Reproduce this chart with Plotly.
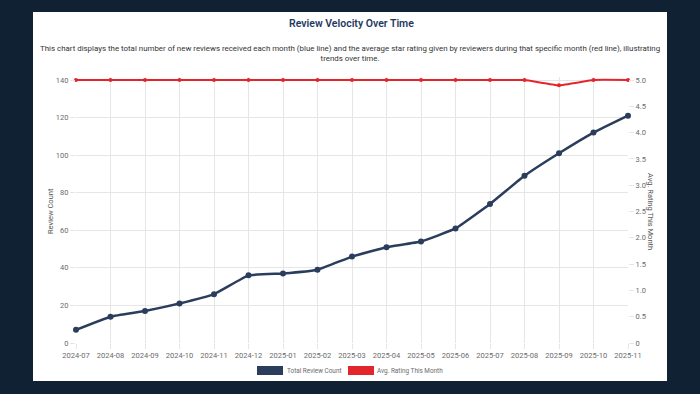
import plotly.graph_objects as go

months = ["2024-07", "2024-08", "2024-09", "2024-10", "2024-11", "2024-12",
          "2025-01", "2025-02", "2025-03", "2025-04", "2025-05", "2025-06",
          "2025-07", "2025-08", "2025-09", "2025-10", "2025-11"]
review_counts = [7, 14, 17, 21, 26, 36, 37, 39, 46, 51, 54, 61, 74, 89, 101, 112, 121]
avg_ratings = [5.0, 5.0, 5.0, 5.0, 5.0, 5.0, 5.0, 5.0, 5.0, 5.0, 5.0, 5.0, 5.0, 5.0, 4.9, 5.0, 5.0]
left_ticks = [0, 20, 40, 60, 80, 100, 120, 140]
right_tickvals = [0, 0.5, 1.0, 1.5, 2.0, 2.5, 3.0, 3.5, 4.0, 4.5, 5.0]
right_ticktext = ["0", "0.5", "1.0", "1.5", "2.0", "2.5", "3.0", "3.5", "4.0", "4.5", "5.0"]

title = "Review Velocity Over Time"
subtitle = ("This chart displays the total number of new reviews received each month (blue line) and the average "
            "star rating given by reviewers during that specific month (red line), illustrating<br>trends over time.")
series_names = ["Total Review Count", "Avg. Rating This Month"]

NAVY = "#2b3d5c"
RED = "#e3262b"
BG = "#0f2133"
FONT = "Roboto"
TICK_COLOR = "#6b6b6b"

W, H = 700, 394
L, R = 76, 628          # plot area pixel x
TOP, BOT = 77, 343      # plot area pixel y (140 grid at y=80)
ymax_left = 140 * (BOT - TOP) / (BOT - 80)
ymax_right = 5 * (BOT - TOP) / (BOT - 80)


def px(x):
    return (x - L) / (R - L)


def py(y):
    return (BOT - y) / (BOT - TOP)


fig = go.Figure()
fig.add_trace(go.Scatter(
    x=months, y=review_counts, name=series_names[0], mode="lines+markers",
    line=dict(color=NAVY, width=2.5, shape="spline", smoothing=0.3),
    marker=dict(color=NAVY, size=6), yaxis="y", cliponaxis=False, showlegend=False))
fig.add_trace(go.Scatter(
    x=months, y=avg_ratings, name=series_names[1], mode="lines+markers",
    line=dict(color=RED, width=2, shape="spline", smoothing=0.3),
    marker=dict(color=RED, size=4), yaxis="y2", cliponaxis=False, showlegend=False))

shapes = [
    dict(type="rect", xref="paper", yref="paper", x0=px(33), x1=px(667), y0=py(381), y1=py(12),
         fillcolor="white", line=dict(width=0), layer="below"),
    dict(type="rect", xref="paper", yref="paper", x0=px(257), x1=px(283), y0=py(375), y1=py(366),
         fillcolor=NAVY, line=dict(width=0)),
    dict(type="rect", xref="paper", yref="paper", x0=px(348), x1=px(374), y0=py(375), y1=py(366),
         fillcolor=RED, line=dict(width=0)),
]

annotations = [
    dict(text=title, x=px(351), y=py(23), xref="paper", yref="paper", showarrow=False,
         xanchor="center", yanchor="middle",
         font=dict(family=FONT, size=10.5, color="#1e3a5f", weight=600)),
    dict(text=subtitle, x=px(350), y=py(53), xref="paper", yref="paper", showarrow=False,
         xanchor="center", yanchor="middle", align="center",
         font=dict(family=FONT, size=7.9, color="#333333")),
    dict(text="Review Count", x=px(50), y=py(211), xref="paper", yref="paper", showarrow=False,
         textangle=-90, xanchor="center", yanchor="middle",
         font=dict(family=FONT, size=7.5, color="#555555")),
    dict(text="Avg. Rating This Month", x=px(651), y=py(211), xref="paper", yref="paper", showarrow=False,
         textangle=90, xanchor="center", yanchor="middle",
         font=dict(family=FONT, size=7.5, color="#555555")),
    dict(text=series_names[0], x=px(286), y=py(370.5), xref="paper", yref="paper", showarrow=False,
         xanchor="left", yanchor="middle", borderpad=0,
         font=dict(family=FONT, size=6.4, color=TICK_COLOR)),
    dict(text=series_names[1], x=px(376), y=py(370.5), xref="paper", yref="paper", showarrow=False,
         xanchor="left", yanchor="middle", borderpad=0,
         font=dict(family=FONT, size=6.4, color=TICK_COLOR)),
]

fig.update_layout(
    width=W, height=H,
    margin=dict(l=L, r=W - R, t=TOP, b=H - BOT, pad=0),
    paper_bgcolor=BG, plot_bgcolor="rgba(0,0,0,0)",
    font=dict(family=FONT, size=7.5, color=TICK_COLOR),
    shapes=shapes, annotations=annotations,
    xaxis=dict(type="category", range=[0, len(months) - 1], showgrid=True, gridcolor="#e6e6e6",
               gridwidth=1, ticks="outside", ticklen=5, tickcolor="#e6e6e6", zeroline=False,
               showline=False, tickfont=dict(family=FONT, size=7.5, color=TICK_COLOR), tickangle=0),
    yaxis=dict(range=[0, ymax_left], tickvals=left_ticks, showgrid=True, gridcolor="#e6e6e6",
               ticks="outside", ticklen=5, tickcolor="#e6e6e6", zeroline=False, showline=False,
               tickfont=dict(family=FONT, size=7.5, color=TICK_COLOR)),
    yaxis2=dict(range=[0, ymax_right], overlaying="y", side="right", tickvals=right_tickvals,
                ticktext=right_ticktext, showgrid=False, ticks="outside", ticklen=5,
                tickcolor="#e6e6e6", zeroline=False, showline=False,
                tickfont=dict(family=FONT, size=7.5, color=TICK_COLOR)),
)

fig.write_html("out.html", config={"displayModeBar": False},
               post_script="document.body.style.margin='0';document.body.style.background='%s';" % BG)
